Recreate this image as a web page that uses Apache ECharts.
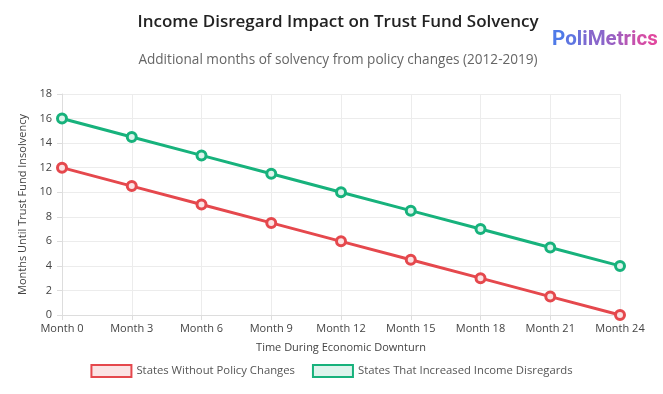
<!DOCTYPE html>
<html><head><meta charset="utf-8">
<script src="https://cdn.jsdelivr.net/npm/echarts@6/dist/echarts.min.js"></script>
<style>html,body{margin:0;padding:0;background:#fff}#c{width:663px;height:394px}</style>
</head><body><div id="c"></div>
<script>
const categories = ['Month 0','Month 3','Month 6','Month 9','Month 12','Month 15','Month 18','Month 21','Month 24'];
const withoutChanges = [12, 10.5, 9, 7.5, 6, 4.5, 3, 1.5, 0];
const increasedDisregards = [16, 14.5, 13, 11.5, 10, 8.5, 7, 5.5, 4];
const seriesNames = ['States Without Policy Changes', 'States That Increased Income Disregards'];
const FONT = '"Open Sans", "Segoe UI", sans-serif';
const RED = '#e5484d', GREEN = '#17b27c';

// gradient brand text built letter by letter (style only)
const brand = 'PoliMetrics';
const c0 = [79, 122, 232], c1 = [224, 72, 159];
const rich = {};
let brandText = '';
for (let i = 0; i < brand.length; i++) {
  const t = i / (brand.length - 1);
  const col = 'rgb(' + c0.map((v, k) => Math.round(v + (c1[k] - v) * t)).join(',') + ')';
  rich['l' + i] = { color: col, fontFamily: 'Roboto, "Open Sans", sans-serif', fontWeight: 'bold', fontSize: 20.5 };
  brandText += '{l' + i + '|' + brand[i] + '}';
}

const chart = echarts.init(document.getElementById('c'));
chart.setOption({
  animation: false,
  textStyle: { fontFamily: FONT },
  title: [
    { text: 'Income Disregard Impact on Trust Fund Solvency', left: 333, top: 9, textAlign: 'center',
      textStyle: { fontFamily: FONT, fontSize: 17, fontWeight: 600, color: '#222' } },
    { text: 'Additional months of solvency from policy changes (2012-2019)', left: 333, top: 48, textAlign: 'center',
      textStyle: { fontFamily: FONT, fontSize: 13.6, fontWeight: 'normal', color: '#666' } },
    { text: brandText, left: 547, top: 24, textStyle: { rich: rich } }
  ],
  legend: {
    bottom: 11, left: 'center', itemWidth: 40, itemHeight: 12, itemGap: 17,
    icon: 'rect',
    textStyle: { fontFamily: FONT, fontSize: 11.3, color: '#555' },
    data: seriesNames
  },
  grid: { left: 62, right: 43, top: 94, bottom: 79 },
  xAxis: {
    type: 'category', data: categories, boundaryGap: false,
    name: 'Time During Economic Downturn', nameLocation: 'middle', nameGap: 27,
    nameTextStyle: { fontSize: 11, color: '#444' },
    axisLine: { lineStyle: { color: '#ddd' } },
    axisTick: { show: true, length: 5, lineStyle: { color: '#ddd' } },
    axisLabel: { fontSize: 11, color: '#444', margin: 8 },
    splitLine: { show: true, lineStyle: { color: '#ececec' } }
  },
  yAxis: {
    type: 'value', min: 0, max: 18, interval: 2,
    name: 'Months Until Trust Fund Insolvency', nameLocation: 'middle', nameGap: 32,
    nameTextStyle: { fontSize: 11, color: '#444' },
    axisLine: { show: true, lineStyle: { color: '#ddd' } },
    axisTick: { show: true, length: 5, lineStyle: { color: '#ddd' } },
    axisLabel: { fontSize: 11, color: '#444', margin: 10 },
    splitLine: { lineStyle: { color: '#ececec' } }
  },
  series: [
    { name: seriesNames[0], type: 'line', data: withoutChanges, symbol: 'circle', symbolSize: 9,
      lineStyle: { color: RED, width: 3 },
      itemStyle: { color: '#fbe3e4', borderColor: RED, borderWidth: 3 } },
    { name: seriesNames[1], type: 'line', data: increasedDisregards, symbol: 'circle', symbolSize: 9,
      lineStyle: { color: GREEN, width: 3 },
      itemStyle: { color: '#ddf4ec', borderColor: GREEN, borderWidth: 3 } }
  ]
});
</script></body></html>
